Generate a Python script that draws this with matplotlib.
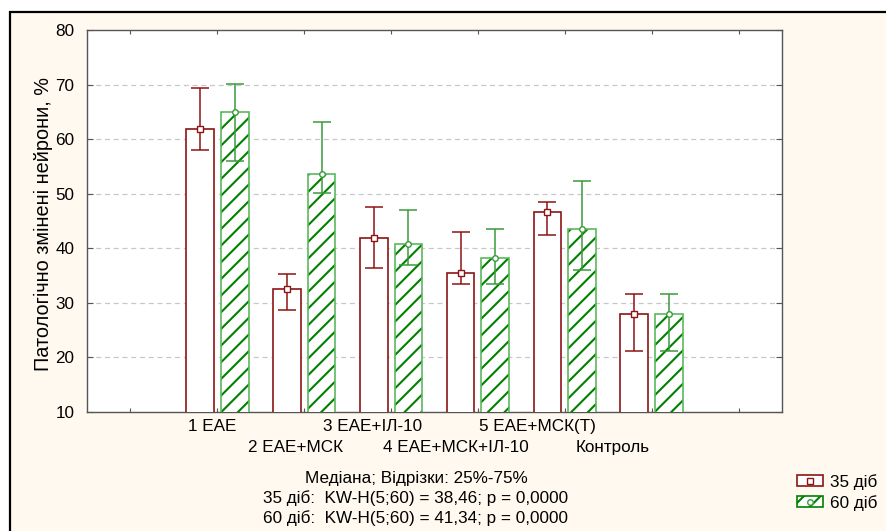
import matplotlib
matplotlib.use('Agg')
import matplotlib.pyplot as plt
import matplotlib.transforms as mtransforms
import numpy as np
from matplotlib.patches import Patch, Rectangle
from matplotlib.lines import Line2D

plt.rcParams['font.family'] = ['Liberation Sans', 'DejaVu Sans']
plt.rcParams['hatch.linewidth'] = 1.5

# ---- data ----
categories = ['1 ЕАЕ', '2 ЕАЕ+МСК', '3 ЕАЕ+ІЛ-10', '4 ЕАЕ+МСК+ІЛ-10', '5 ЕАЕ+МСК(Т)', 'Контроль']
median_35 = [61.9, 32.6, 41.9, 35.4, 46.6, 28.0]
q25_35 = [58.0, 28.6, 36.3, 33.4, 42.4, 21.1]
q75_35 = [69.3, 35.3, 47.6, 42.9, 48.5, 31.6]
median_60 = [64.9, 53.6, 40.7, 38.3, 43.6, 28.0]
q25_60 = [56.0, 50.1, 36.9, 33.4, 36.1, 21.1]
q75_60 = [70.1, 63.2, 47.1, 43.5, 52.4, 31.6]
series_labels = ['35 діб', '60 діб']
y_ticks = [10, 20, 30, 40, 50, 60, 70, 80]
y_label = 'Патологічно змінені нейрони, %'
caption = ['Медіана; Відрізки: 25%-75%',
           '35 діб:  KW-H(5;60) = 38,46; p = 0,0000',
           '60 діб:  KW-H(5;60) = 41,34; p = 0,0000']

# ---- style ----
RED = '#8b1414'
GREEN_HATCH = '#008000'
GREEN_EDGE = '#5cb85c'
GREEN_ERR = '#3a9a3a'
CREAM = '#fff9ef'
FS = 12.3
label_shift = [-0.06, -0.10, -0.21, -0.25, -0.31, -0.45]

W, H = 887, 531
fig = plt.figure(figsize=(W / 100, H / 100), dpi=100, facecolor='white')
frame = Rectangle((10 / W, -0.2), 1.5, 1 - 12 / H + 0.2, transform=fig.transFigure,
                  facecolor=CREAM, edgecolor='black', linewidth=1.6, zorder=-10)
fig.patches.append(frame)

ax = fig.add_axes([87 / W, 1 - 412 / H, (782 - 87) / W, (412 - 30) / H])
ax.set_facecolor('white')

x = np.arange(1, len(categories) + 1)
bw = 0.32
off = 0.2
m35 = np.array(median_35); m60 = np.array(median_60)

ax.bar(x - off, m35, width=bw, facecolor='white', edgecolor=RED, linewidth=1.2, zorder=3)
ax.bar(x + off, m60, width=bw, facecolor='white', edgecolor=GREEN_HATCH, hatch='//',
       linewidth=0, zorder=3)
ax.bar(x + off, m60, width=bw, facecolor='none', edgecolor=GREEN_EDGE, linewidth=1.2, zorder=4)

ax.errorbar(x - off, m35, yerr=[m35 - np.array(q25_35), np.array(q75_35) - m35],
            fmt='none', ecolor=RED, elinewidth=1.1, capsize=6.8, capthick=1.1, zorder=5)
ax.errorbar(x + off, m60, yerr=[m60 - np.array(q25_60), np.array(q75_60) - m60],
            fmt='none', ecolor=GREEN_ERR, elinewidth=1.1, capsize=6.8, capthick=1.1, zorder=5)
ax.plot(x - off, m35, 's', mfc='white', mec=RED, ms=5, mew=1, zorder=6, linestyle='none')
ax.plot(x + off, m60, 'o', mfc='white', mec=GREEN_ERR, ms=4, mew=1, zorder=6, linestyle='none')

ax.set_xlim(-0.5, len(categories) + 1.5)
ax.set_ylim(10, 80)
ax.set_yticks(y_ticks)
ax.set_xticks(np.arange(0, len(categories) + 2))
ax.set_xticklabels([])
ax.tick_params(direction='in', top=True, right=True, length=4, color='#555555',
               labelsize=FS, pad=9)
ax.tick_params(axis='x', length=3)
for s in ax.spines.values():
    s.set_color('#555555')
    s.set_linewidth(1.0)
for yv in y_ticks[1:-1]:
    ax.axhline(yv, color='#c8c8c8', linestyle=(0, (4, 3)), linewidth=0.9, zorder=1)

trans = mtransforms.blended_transform_factory(ax.transData, ax.transAxes)
for i, (xi, lab) in enumerate(zip(x, categories)):
    yy = -0.037 if i % 2 == 0 else -0.094
    ax.text(xi + label_shift[i], yy, lab, transform=trans, ha='center', va='center',
            fontsize=FS)

fig.text(43 / W, 1 - 224 / H, y_label, rotation=90, ha='center', va='center', fontsize=14.3)
for j, line in enumerate(caption):
    fig.text(416 / W, 1 - (479 + 19.5 * j) / H, line, ha='center', va='center', fontsize=FS)

h1 = (Patch(facecolor='white', edgecolor=RED, linewidth=1.2),
      Line2D([], [], marker='s', mfc='white', mec=RED, ms=4, linestyle='none'))
h2 = (Patch(facecolor='white', edgecolor=GREEN_HATCH, hatch='//', linewidth=1.2),
      Line2D([], [], marker='o', mfc='white', mec=GREEN_ERR, ms=4, linestyle='none'))
fig.legend([h1, h2], series_labels, loc='upper left', bbox_to_anchor=(797 / W, 1 - 474 / H),
           frameon=False, fontsize=FS, handlelength=1.5, handleheight=0.6,
           labelspacing=0.3, handletextpad=0.45, borderaxespad=0, borderpad=0)

fig.savefig('out.png', dpi=100, facecolor=fig.get_facecolor())
